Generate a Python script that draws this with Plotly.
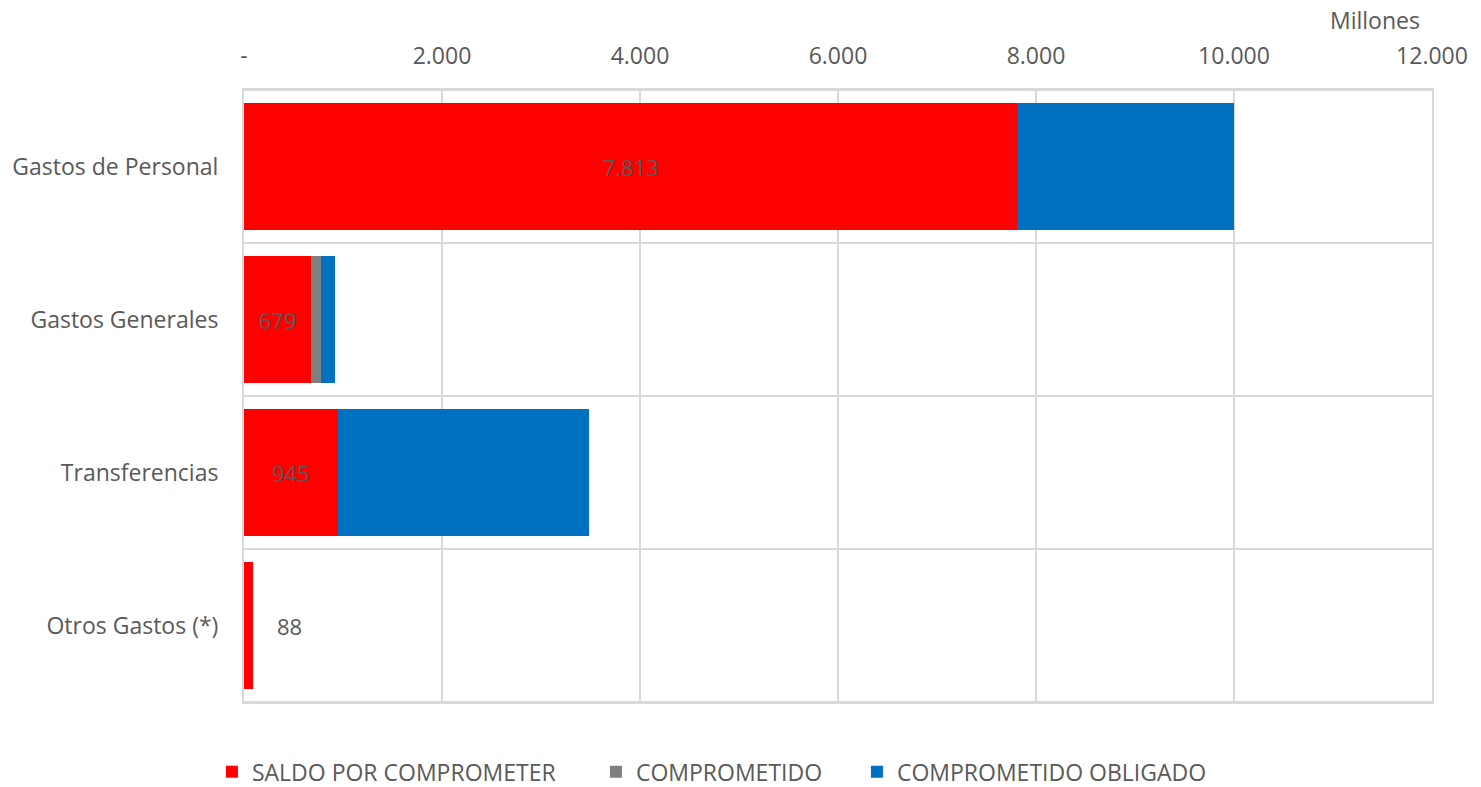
import plotly.graph_objects as go

categories = ["Gastos de Personal", "Gastos Generales", "Transferencias", "Otros Gastos (*)"]
saldo = [7813, 679, 945, 88]
comprometido = [0, 99, 0, 0]
obligado = [2190, 138, 2540, 0]
tick_vals = [0, 2000, 4000, 6000, 8000, 10000, 12000]
tick_text = ["-", "2.000", "4.000", "6.000", "8.000", "10.000", "12.000"]

FONT = "Open Sans"
TXT = "#595959"
GRID = "#d9d9d9"
FS = 23

labels_inside = [f"{v:,}".replace(",", ".") if v > 300 else "" for v in saldo]

fig = go.Figure()
fig.add_trace(go.Bar(
    y=categories, x=saldo, orientation="h", name="SALDO POR COMPROMETER",
    marker=dict(color="#ff0000", line=dict(width=0)),
    text=labels_inside, textposition="inside", insidetextanchor="middle",
    textfont=dict(color=TXT, size=22, family=FONT), cliponaxis=False,
    legendwidth=339,
))
fig.add_trace(go.Bar(
    y=categories, x=comprometido, orientation="h", name="COMPROMETIDO",
    marker=dict(color="#808080", line=dict(width=0)),
    legendwidth=216,
))
fig.add_trace(go.Bar(
    y=categories, x=obligado, orientation="h", name="COMPROMETIDO OBLIGADO",
    marker=dict(color="#0070c0", line=dict(width=0)),
))

# label for the small bar placed outside
for cat, v in zip(categories, saldo):
    if v <= 300:
        fig.add_annotation(x=v, y=cat, xref="x", yref="y", text=f"{v:,}".replace(",", "."),
                           showarrow=False, xanchor="left", xshift=22,
                           font=dict(color=TXT, size=22, family=FONT))

# category separators
shapes = []
n = len(categories)
for i in range(n + 1):
    shapes.append(dict(type="line", xref="paper", yref="paper", x0=0, x1=1,
                       y0=i / n, y1=i / n, line=dict(color=GRID, width=2), layer="below"))

fig.update_layout(
    barmode="stack",
    bargap=0.17,
    width=1481, height=787,
    margin=dict(l=236, r=57, t=82, b=93),
    paper_bgcolor="white", plot_bgcolor="white",
    font=dict(family=FONT, color=TXT, size=FS),
    shapes=shapes,
    showlegend=True,
    legend=dict(orientation="h", xref="container", yref="container",
                x=0.1377, xanchor="left", y=0.0295, yanchor="middle",
                font=dict(size=FS, color=TXT, family=FONT), traceorder="normal",
                itemwidth=30),
    xaxis=dict(side="top", range=[0, 12000], tickvals=tick_vals, ticktext=tick_text,
               showgrid=True, gridcolor=GRID, gridwidth=2, zeroline=False,
               showline=True, linecolor=GRID, linewidth=2, mirror=True, automargin=False,
               ticks="", tickfont=dict(size=FS, color=TXT), ticklabelstandoff=15),
    yaxis=dict(categoryorder="array", categoryarray=categories, autorange="reversed",
               showgrid=False, zeroline=False, showline=True, linecolor=GRID, linewidth=2,
               mirror=True, automargin=False, ticks="", tickfont=dict(size=FS, color=TXT),
               ticklabelstandoff=19),
)
fig.add_annotation(text="Millones", xref="paper", yref="paper", x=1, y=1, xanchor="right",
                   yanchor="bottom", yshift=52, xshift=-10, showarrow=False,
                   font=dict(size=FS, color=TXT, family=FONT))

fig.write_html("out.html")
